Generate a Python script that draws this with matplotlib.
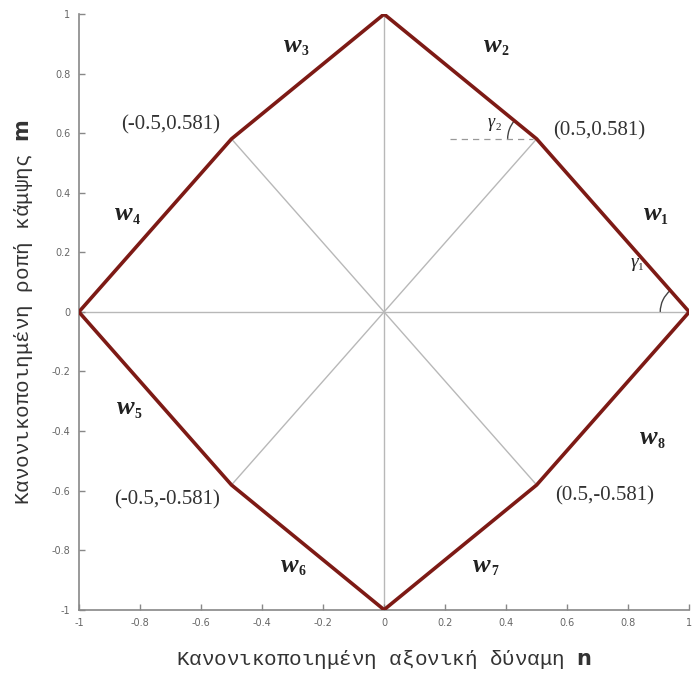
import matplotlib
matplotlib.use("Agg")
import matplotlib.pyplot as plt
from matplotlib.patches import Arc
import numpy as np

# Data
hull_n = [1.0, 0.5, 0.0, -0.5, -1.0, -0.5, 0.0, 0.5, 1.0]
hull_m = [0.0, 0.581, 1.0, 0.581, 0.0, -0.581, -1.0, -0.581, 0.0]
corner_n = [0.5, -0.5, -0.5, 0.5]
corner_m = [0.581, 0.581, -0.581, -0.581]
corner_labels = ["(0.5,0.581)", "(-0.5,0.581)", "(-0.5,-0.581)", "(0.5,-0.581)"]
seg_labels = ["1", "2", "3", "4", "5", "6", "7", "8"]
seg_label_n = [0.879, 0.357, -0.298, -0.852, -0.846, -0.308, 0.321, 0.866]
seg_label_m = [0.329, 0.896, 0.896, 0.33, -0.322, -0.85, -0.85, -0.423]
ticks = [-1, -0.8, -0.6, -0.4, -0.2, 0, 0.2, 0.4, 0.6, 0.8, 1]
tick_labels = ["-1", "-0.8", "-0.6", "-0.4", "-0.2", "0", "0.2", "0.4", "0.6", "0.8", "1"]

fig = plt.figure(figsize=(6.92, 6.73), dpi=100)
ax = fig.add_axes([0.114, 0.094, 0.882, 0.885])
ax.set_xlim(-1, 1)
ax.set_ylim(-1, 1)

grey = "#b8b8b8"
ax.plot([-1, 1], [0, 0], color=grey, lw=1, zorder=1)
ax.plot([0, 0], [-1, 1], color=grey, lw=1, zorder=1)
for cn, cm in zip(corner_n, corner_m):
    ax.plot([0, cn], [0, cm], color=grey, lw=1, zorder=1)

ax.plot(hull_n, hull_m, color="#7d1a15", lw=2.6, zorder=3, solid_joinstyle="round")

serif = ["Liberation Serif", "DejaVu Serif"]
# (dx, dy, ha) offsets of corner annotations from their vertex
offs = [(0.054, 0.026, "left"), (-0.038, 0.046, "right"), (-0.038, -0.05, "right"), (0.061, -0.036, "left")]
for cn, cm, lab, (dx, dy, ha) in zip(corner_n, corner_m, corner_labels, offs):
    ax.text(cn + dx, cm + dy, lab, ha=ha, va="center", fontsize=15, family=serif, color="#333333")

for lab, x, y in zip(seg_labels, seg_label_n, seg_label_m):
    ax.text(x, y, "w", ha="center", va="center",
            fontsize=19, family=serif, style="italic", weight="bold", color="#222222")
    ax.text(x + 0.04, y - 0.022, lab, ha="center", va="center",
            fontsize=10, family=serif, weight="bold", color="#222222")

# angle marks
ax.add_patch(Arc((1.0, 0.0), 0.19, 0.19, theta1=130, theta2=180, color="#444444", lw=1))
ax.text(0.82, 0.165, "γ", fontsize=14, family=serif, style="italic", ha="center", va="center", color="#222222")
ax.text(0.842, 0.15, "1", fontsize=8, family=serif, ha="center", va="center", color="#222222")
ax.plot([0.216, 0.489], [0.581, 0.581], color="#999999", lw=0.9, ls=(0, (5, 4)), zorder=2)
ax.add_patch(Arc((0.5, 0.581), 0.19, 0.19, theta1=140, theta2=180, color="#444444", lw=1))
ax.text(0.35, 0.635, "γ", fontsize=13, family=serif, style="italic", ha="center", va="center", color="#222222")
ax.text(0.373, 0.62, "2", fontsize=8, family=serif, ha="center", va="center", color="#222222")

for s in ["top", "right"]:
    ax.spines[s].set_visible(False)
for s in ["left", "bottom"]:
    ax.spines[s].set_color("#888888")
    ax.spines[s].set_linewidth(1.2)
ax.set_xticks(ticks)
ax.set_xticklabels(tick_labels)
ax.set_yticks(ticks)
ax.set_yticklabels(tick_labels)
ax.tick_params(direction="in", length=4, width=1, colors="#888888", labelsize=7, labelcolor="#666666", pad=6)

lab_font = ["Liberation Mono", "DejaVu Sans Mono"]
ax.set_xlabel("Κανονικοποιημένη αξονική δύναμη $\\mathbf{n}$", fontsize=15, family=lab_font,
              color="#333333", labelpad=14)
ax.set_ylabel("Κανονικοποιημένη ροπή κάμψης $\\mathbf{m}$", fontsize=15, family=lab_font,
              color="#333333", labelpad=12)

fig.savefig("out.png", dpi=100)
